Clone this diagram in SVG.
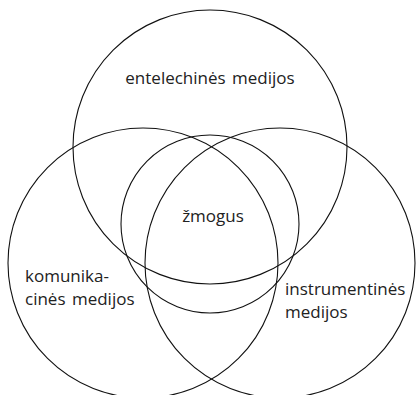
<svg xmlns="http://www.w3.org/2000/svg" width="420" height="395" viewBox="0 0 420 395">
<style>
.c{fill:none;stroke:#111;stroke-width:1.1}
.t{font-family:"Open Sans","Liberation Sans",sans-serif;font-size:17px;word-spacing:2px;fill:#222}
</style>
<rect width="420" height="395" fill="#fff"/>
<g id="entelechines">
<circle class="c" cx="210" cy="147" r="137"/>
<text class="t" x="210" y="84" text-anchor="middle">entelechinės medijos</text>
</g>
<g id="komunikacines">
<circle class="c" cx="143" cy="263" r="135"/>
<text class="t" x="25" y="282">komunika-</text>
<text class="t" x="25" y="305">cinės medijos</text>
</g>
<g id="instrumentines">
<circle class="c" cx="280" cy="263" r="135"/>
<text class="t" x="285" y="295">instrumentinės</text>
<text class="t" x="285" y="318">medijos</text>
</g>
<g id="zmogus">
<circle class="c" cx="210" cy="224" r="89"/>
<text class="t" x="213" y="222" text-anchor="middle">žmogus</text>
</g>
<g id="connectors"/>
</svg>
